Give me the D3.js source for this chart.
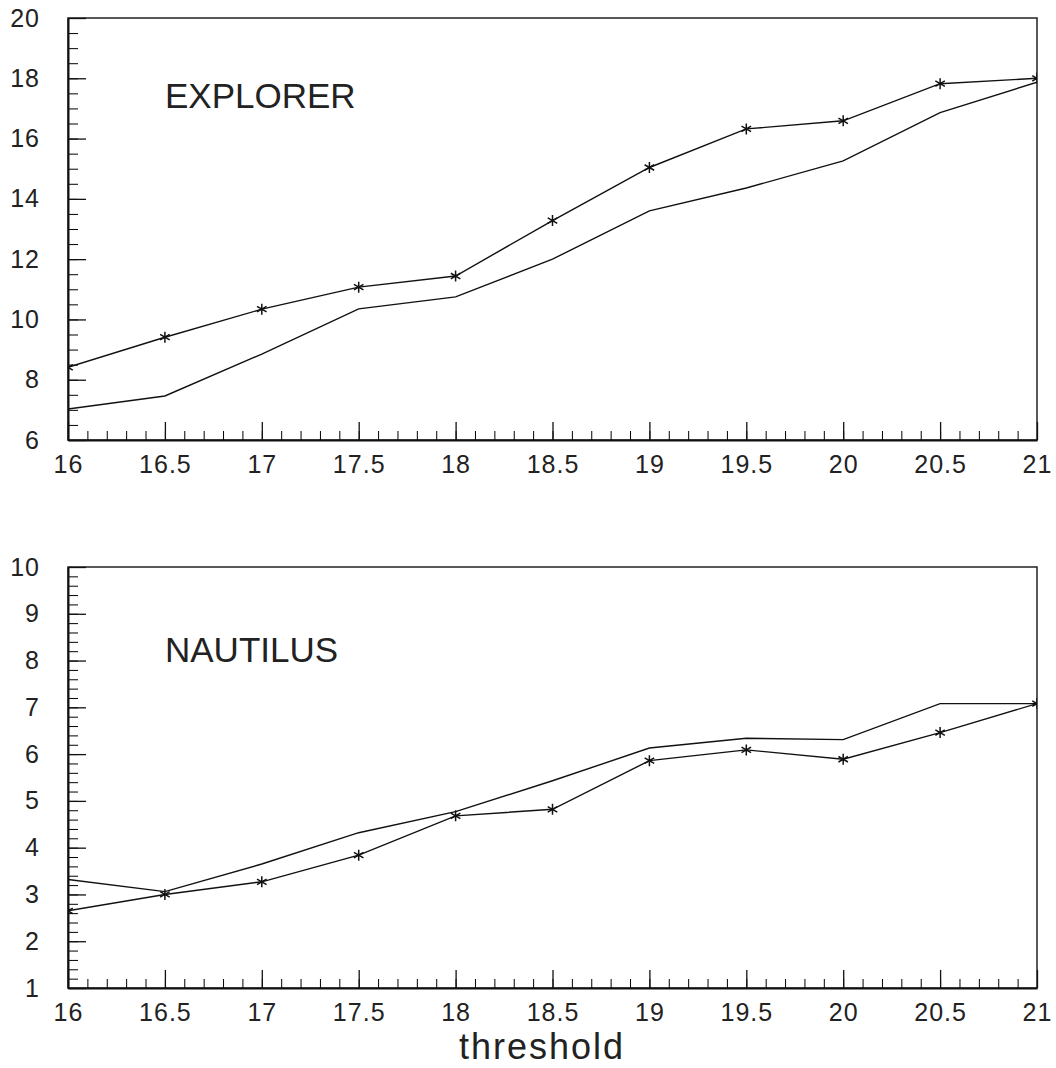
<!DOCTYPE html>
<html>
<head>
<meta charset="utf-8">
<script src="https://cdn.jsdelivr.net/npm/d3@7"></script>
<style>
  body { margin: 0; background: #fff; }
  svg text { font-family: "Liberation Sans", Arial, sans-serif; fill: #222; }
</style>
</head>
<body>
<script>
// data
var thresholds = [16, 16.5, 17, 17.5, 18, 18.5, 19, 19.5, 20, 20.5, 21];

var explorerStar = [8.41, 9.41, 10.34, 11.07, 11.44, 13.28, 15.04, 16.32, 16.59, 17.82, 18.0];
var explorerLine = [7.03, 7.46, 8.85, 10.35, 10.75, 12.0, 13.6, 14.36, 15.26, 16.86, 17.87];

var nautilusStar = [2.65, 3.0, 3.27, 3.84, 4.68, 4.82, 5.86, 6.09, 5.89, 6.46, 7.08];
var nautilusLine = [3.32, 3.06, 3.65, 4.32, 4.77, 5.43, 6.13, 6.34, 6.31, 7.08, 7.08];

var xMajor = d3.range(16, 21.001, 0.5);
var xMinor = d3.range(16, 21.001, 0.1);

var panels = [
  { name: "EXPLORER", top: 18, bottom: 440, domain: [6, 20],
    yMajor: d3.range(6, 20.001, 2), yMinor: d3.range(6, 20.001, 0.5),
    star: explorerStar, line: explorerLine, labelY: 108 },
  { name: "NAUTILUS", top: 567, bottom: 988, domain: [1, 10],
    yMajor: d3.range(1, 10.001, 1), yMinor: d3.range(1, 10.001, 0.2),
    star: nautilusStar, line: nautilusLine, labelY: 662 }
];

var left = 68, right = 1037;

var svg = d3.select("body").append("svg")
  .attr("width", 1056)
  .attr("height", 1068);

var x = d3.scaleLinear().domain([16, 21]).range([left, right]);

panels.forEach(function(p, k) {
  var y = d3.scaleLinear().domain(p.domain).range([p.bottom, p.top]);
  var g = svg.append("g");

  // clip so the end markers get cut by the frame
  svg.append("clipPath").attr("id", "clip" + k)
    .append("rect")
    .attr("x", left).attr("y", p.top)
    .attr("width", right - left).attr("height", p.bottom - p.top);

  // frame
  g.append("rect")
    .attr("x", left).attr("y", p.top)
    .attr("width", right - left).attr("height", p.bottom - p.top)
    .attr("fill", "none")
    .attr("stroke", "#222")
    .attr("stroke-width", 1.5);

  // minor ticks
  g.append("g")
    .attr("transform", "translate(" + left + ",0)")
    .call(d3.axisLeft(y).tickValues(p.yMinor).tickSize(-10).tickFormat(""))
    .call(function(s) { s.select(".domain").remove(); });
  g.append("g")
    .attr("transform", "translate(0," + p.bottom + ")")
    .call(d3.axisBottom(x).tickValues(xMinor).tickSize(-9).tickFormat(""))
    .call(function(s) { s.select(".domain").remove(); });

  // major ticks and labels
  var yAxis = g.append("g")
    .attr("transform", "translate(" + left + ",0)")
    .call(d3.axisLeft(y).tickValues(p.yMajor).tickSize(-18).tickSizeOuter(0)
      .tickPadding(28).tickFormat(d3.format("d")));
  var xAxis = g.append("g")
    .attr("transform", "translate(0," + p.bottom + ")")
    .call(d3.axisBottom(x).tickValues(xMajor).tickSize(-18).tickSizeOuter(0)
      .tickPadding(15).tickFormat(function(d) { return String(+d.toFixed(1)); }));

  [yAxis, xAxis].forEach(function(a) {
    a.selectAll("text").style("font-size", "25px").style("letter-spacing", "1px");
    a.selectAll("line").attr("stroke", "#111").attr("stroke-width", 1.3);
    a.select(".domain").attr("stroke", "#111").attr("stroke-width", 2);
  });

  var plot = g.append("g").attr("clip-path", "url(#clip" + k + ")");

  var lineGen = function(vals) {
    return d3.line()
      .x(function(d, i) { return x(thresholds[i]); })
      .y(function(d) { return y(d); })(vals);
  };

  plot.append("path")
    .attr("d", lineGen(p.line))
    .attr("fill", "none")
    .attr("stroke", "#111")
    .attr("stroke-width", 1.4);

  plot.append("path")
    .attr("d", lineGen(p.star))
    .attr("fill", "none")
    .attr("stroke", "#111")
    .attr("stroke-width", 1.4);

  plot.selectAll(".star")
    .data(p.star)
    .enter()
    .append("path")
    .attr("class", "star")
    .attr("transform", function(d, i) {
      return "translate(" + x(thresholds[i]) + "," + y(d) + ")";
    })
    .attr("d", d3.symbol().type(d3.symbolAsterisk).size(85))
    .attr("fill", "none")
    .attr("stroke", "#111")
    .attr("stroke-width", 1.5);

  g.append("text")
    .attr("x", 165)
    .attr("y", p.labelY)
    .style("font-size", "35px")
    .text(p.name);
});

svg.append("text")
  .attr("x", 459)
  .attr("y", 1059)
  .style("font-size", "36px")
  .style("letter-spacing", "2px")
  .text("threshold");
</script>
</body>
</html>
